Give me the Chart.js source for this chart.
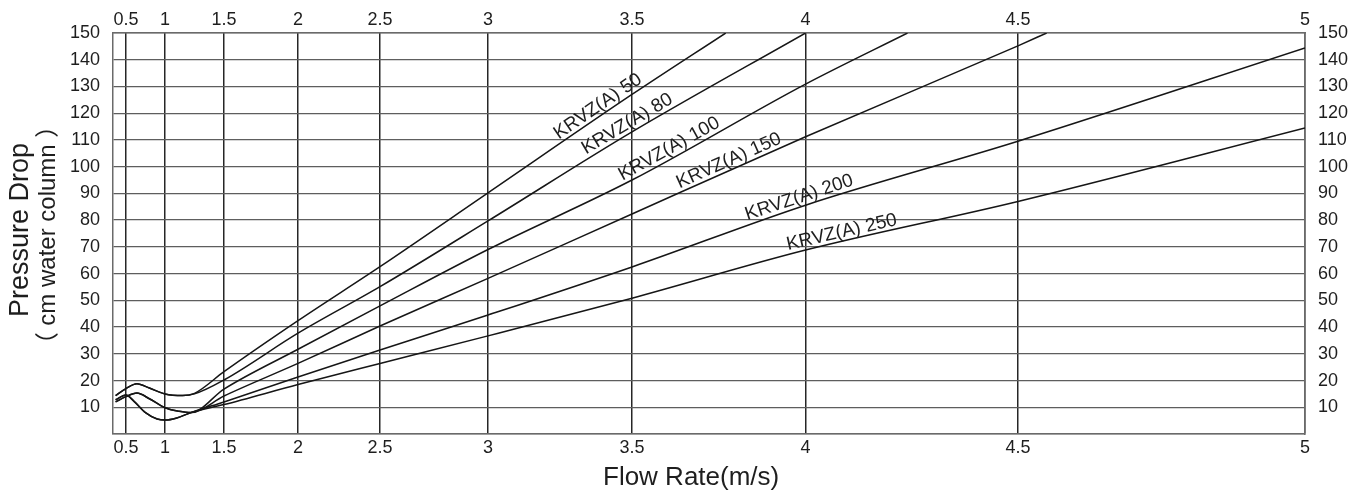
<!DOCTYPE html>
<html>
<head>
<meta charset="utf-8">
<script src="https://cdn.jsdelivr.net/npm/chart.js@4/dist/chart.umd.min.js"></script>
<style>
html,body{margin:0;padding:0;background:#fff;}
#wrap{width:1372px;height:490px;}
</style>
</head>
<body>
<div id="wrap"><canvas id="c" width="1372" height="490"></canvas></div>
<script>
// ---------- data ----------
const X_TICKS = [0.5, 1, 1.5, 2, 2.5, 3, 3.5, 4, 4.5, 5];
const Y_MIN = 0, Y_MAX = 150, Y_STEP = 10;
const X_MIN = 0.4, X_MAX = 5;

const SERIES_NAMES = ['KRVZ(A) 50', 'KRVZ(A) 80', 'KRVZ(A) 100', 'KRVZ(A) 150', 'KRVZ(A) 200', 'KRVZ(A) 250'];

const flow50  = [0.42, 0.5, 0.64, 0.8, 1.0, 1.15, 1.25, 1.5, 2, 2.5, 3, 3.5, 3.77];
const drop50  = [14.4, 17, 18.8, 17.2, 15, 14.4, 15.2, 23.3, 42.4, 62.6, 90.2, 127, 150];

const flow80  = [0.42, 0.5, 0.64, 0.8, 1.0, 1.15, 1.25, 1.5, 2, 2.5, 3, 3.5, 4];
const drop80  = [14.4, 17, 18.8, 17.2, 15, 14.4, 15, 20.2, 37.7, 55.1, 79.7, 113, 150];

const flow100 = [0.42, 0.5, 0.64, 0.8, 1.0, 1.12, 1.22, 1.5, 2, 2.5, 3, 3.5, 4, 4.24];
const drop100 = [12, 14, 15.3, 13.2, 9.8, 8.5, 8.0, 16.8, 31.7, 47.9, 69, 95, 130.9, 150];

const flow150 = [0.42, 0.5, 0.64, 0.8, 1.0, 1.12, 1.22, 1.5, 2, 2.5, 3, 3.5, 4, 4.5, 4.55];
const drop150 = [12, 14, 15.3, 13.2, 9.8, 8.5, 8.0, 14.2, 26.4, 40.4, 58.2, 82.3, 111.2, 145.2, 150];

const flow200 = [0.42, 0.5, 0.6, 0.75, 0.9, 1.0, 1.1, 1.22, 1.5, 2, 2.5, 3, 3.5, 4, 4.5, 5];
const drop200 = [12.8, 14.6, 12.3, 8, 5.6, 5.2, 6, 8.0, 12, 21.3, 31.4, 44.5, 62.5, 85.6, 109.5, 144.4];

const flow250 = [0.42, 0.5, 0.6, 0.75, 0.9, 1.0, 1.1, 1.22, 1.5, 2, 2.5, 3, 3.5, 4, 4.5, 5];
const drop250 = [12.8, 14.6, 12.3, 8, 5.6, 5.2, 6, 8.0, 11, 18.5, 26.4, 36.7, 50.8, 68.8, 87, 114.5];

// flow value where each curve label sits
const LABEL_AT = [3.40, 3.50, 3.62, 3.79, 3.99, 4.09];

// ---------- non-linear flow axis (layout of the printed grid) ----------
const AXIS_KNOTS = [0.4, 0.5, 1, 1.5, 2, 2.5, 3, 3.5, 4, 4.5, 5];
const AXIS_FRACS = [0, 0.0109, 0.0436, 0.0931, 0.1552, 0.2240, 0.3146, 0.4354, 0.5810, 0.7592, 1];

function warp(v) {
  const k = AXIS_KNOTS, f = AXIS_FRACS;
  if (v <= k[0]) return f[0] + (v - k[0]) * (f[1] - f[0]) / (k[1] - k[0]);
  for (let i = 1; i < k.length; i++) {
    if (v <= k[i]) return f[i-1] + (v - k[i-1]) * (f[i] - f[i-1]) / (k[i] - k[i-1]);
  }
  const n = k.length - 1;
  return f[n] + (v - k[n]) * (f[n] - f[n-1]) / (k[n] - k[n-1]);
}
function unwarp(d) {
  const k = AXIS_KNOTS, f = AXIS_FRACS;
  for (let i = 1; i < f.length; i++) {
    if (d <= f[i]) return k[i-1] + (d - f[i-1]) * (k[i] - k[i-1]) / (f[i] - f[i-1]);
  }
  return k[k.length - 1];
}

const BaseLinear = Chart.LinearScale || Chart.registry.getScale('linear');
class WarpScale extends BaseLinear {
  getPixelForValue(value) {
    if (value === null || value === undefined || isNaN(value)) return NaN;
    return this.getPixelForDecimal(warp(value));
  }
  getValueForPixel(pixel) {
    return unwarp(this.getDecimalForPixel(pixel));
  }
}
WarpScale.id = 'warp';
WarpScale.defaults = {};
Chart.register(WarpScale);

function interp(xs, ys, x) {
  for (let i = 1; i < xs.length; i++) {
    if (x <= xs[i]) return ys[i-1] + (x - xs[i-1]) * (ys[i] - ys[i-1]) / (xs[i] - xs[i-1]);
  }
  return ys[ys.length - 1];
}

const FLOWS = [flow50, flow80, flow100, flow150, flow200, flow250];
const DROPS = [drop50, drop80, drop100, drop150, drop200, drop250];

const datasets = SERIES_NAMES.map((name, i) => ({
  label: name,
  data: FLOWS[i].map((x, j) => ({x: x, y: DROPS[i][j]})),
  borderColor: '#161616',
  borderWidth: 1.5,
  pointRadius: 0,
  fill: false,
  cubicInterpolationMode: 'monotone',
  xAxisID: 'x',
  yAxisID: 'y'
}));

const TEXT = '#1e1e1e';
const LATIN = '"Liberation Sans", Arial, sans-serif';
const TICK_FONT = {family: LATIN, size: 18};

const curveLabels = {
  id: 'curveLabels',
  afterDatasetsDraw(chart) {
    const ctx = chart.ctx, xs = chart.scales.x, ys = chart.scales.y;
    ctx.save();
    ctx.font = '19px ' + LATIN;
    ctx.fillStyle = TEXT;
    ctx.textAlign = 'center';
    ctx.textBaseline = 'alphabetic';
    SERIES_NAMES.forEach((name, i) => {
      const xv = LABEL_AT[i], d = 0.05;
      const px = xs.getPixelForValue(xv), py = ys.getPixelForValue(interp(FLOWS[i], DROPS[i], xv));
      const ax = xs.getPixelForValue(xv - d), ay = ys.getPixelForValue(interp(FLOWS[i], DROPS[i], xv - d));
      const bx = xs.getPixelForValue(xv + d), by = ys.getPixelForValue(interp(FLOWS[i], DROPS[i], xv + d));
      const ang = Math.atan2(by - ay, bx - ax);
      ctx.save();
      ctx.translate(px, py);
      ctx.rotate(ang);
      ctx.fillText(name, 0, -4);
      ctx.restore();
    });
    ctx.restore();
  }
};

const axisTitles = {
  id: 'axisTitles',
  afterDraw(chart) {
    const ctx = chart.ctx, ca = chart.chartArea;
    ctx.save();
    ctx.fillStyle = TEXT;
    ctx.textBaseline = 'alphabetic';
    ctx.textAlign = 'center';
    ctx.font = '26px ' + LATIN;
    ctx.fillText('Flow Rate(m/s)', ca.left + 0.485 * (ca.right - ca.left), 485);

    // first line of the y title
    ctx.save();
    ctx.translate(28, 230);
    ctx.rotate(-Math.PI / 2);
    ctx.font = '27px ' + LATIN;
    ctx.fillText('Pressure Drop', 0, 0);
    ctx.restore();

    // second line with full-width brackets
    ctx.save();
    ctx.translate(55, 235);
    ctx.rotate(-Math.PI / 2);
    const CJK = '24px "Noto Sans CJK SC", sans-serif';
    const LAT = '24px ' + LATIN;
    const parts = [['（', CJK], [' cm water column ', LAT], ['）', CJK]];
    let total = 0;
    const widths = parts.map(([t, f]) => { ctx.font = f; const w = ctx.measureText(t).width; total += w; return w; });
    let x = -total / 2;
    ctx.textAlign = 'left';
    parts.forEach(([t, f], i) => { ctx.font = f; ctx.fillText(t, x, 0); x += widths[i]; });
    ctx.restore();
    ctx.restore();
  }
};

const xTickCfg = (pad) => ({
  padding: pad, color: TEXT, font: TICK_FONT, maxRotation: 0, autoSkip: false,
  callback: (v) => String(v)
});
const yTickCfg = {
  stepSize: Y_STEP, padding: 13, color: TEXT, font: TICK_FONT,
  callback: (v) => (v === 0 ? '' : String(v))
};

new Chart(document.getElementById('c'), {
  type: 'line',
  data: {datasets},
  options: {
    responsive: false,
    animation: false,
    events: [],
    layout: {padding: 0},
    plugins: {legend: {display: false}, tooltip: {enabled: false}, title: {display: false}},
    scales: {
      x: {
        type: 'warp', position: 'bottom', min: X_MIN, max: X_MAX,
        afterBuildTicks: (s) => { s.ticks = X_TICKS.map(v => ({value: v})); },
        afterFit: (s) => { s.height = 56; },
        grid: {color: '#262626', lineWidth: 1.5, drawTicks: false},
        border: {display: true, color: '#6a6a6a', width: 1.5},
        ticks: xTickCfg(3)
      },
      xTop: {
        type: 'warp', position: 'top', min: X_MIN, max: X_MAX,
        afterBuildTicks: (s) => { s.ticks = X_TICKS.map(v => ({value: v})); },
        afterFit: (s) => { s.height = 33; },
        grid: {display: false, drawTicks: false},
        border: {display: true, color: '#6a6a6a', width: 1.5},
        ticks: xTickCfg(2)
      },
      y: {
        type: 'linear', position: 'left', min: Y_MIN, max: Y_MAX,
        afterFit: (s) => { s.width = 113; },
        grid: {color: '#5e5e5e', lineWidth: 1.3, drawTicks: false},
        border: {display: true, color: '#6a6a6a', width: 1.5},
        ticks: yTickCfg
      },
      yRight: {
        type: 'linear', position: 'right', min: Y_MIN, max: Y_MAX,
        afterFit: (s) => { s.width = 67; },
        grid: {display: false, drawTicks: false},
        border: {display: true, color: '#6a6a6a', width: 1.5},
        ticks: yTickCfg
      }
    }
  },
  plugins: [curveLabels, axisTitles]
});
</script>
</body>
</html>
